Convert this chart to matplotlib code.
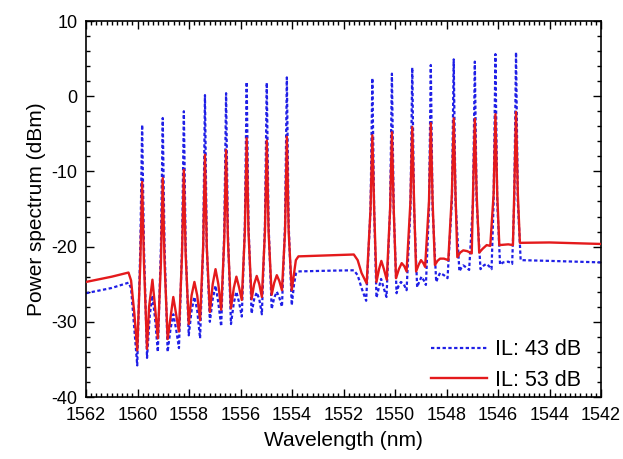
import matplotlib
matplotlib.use("Agg")
import matplotlib.pyplot as plt
from matplotlib.ticker import MultipleLocator

plt.rcParams['font.family'] = ['Liberation Sans', 'DejaVu Sans']
plt.rcParams['axes.unicode_minus'] = False

# ---- data (wavelength in nm, power in dBm) ----
blue_wl = [1562.0, 1561.0, 1560.35, 1560.25, 1560.12, 1560.01,
           1559.89, 1559.82, 1559.75, 1559.63, 1559.52, 1559.42, 1559.32, 1559.21,
           1559.09, 1559.02, 1558.95, 1558.83, 1558.72, 1558.61, 1558.50, 1558.39,
           1558.27, 1558.20, 1558.13, 1558.01, 1557.90, 1557.79, 1557.68, 1557.57,
           1557.45, 1557.38, 1557.31, 1557.19, 1557.08, 1556.97, 1556.86, 1556.75,
           1556.63, 1556.56, 1556.49, 1556.37, 1556.26, 1556.16, 1556.05, 1555.95,
           1555.83, 1555.76, 1555.69, 1555.57, 1555.47, 1555.37, 1555.27, 1555.17,
           1555.05, 1554.98, 1554.91, 1554.79, 1554.69, 1554.59, 1554.49, 1554.39,
           1554.27, 1554.20, 1554.13, 1554.01, 1553.92, 1553.85, 1553.75,
           1552.5, 1551.6, 1551.45, 1551.30, 1551.12,
           1550.95, 1550.88, 1550.81, 1550.72, 1550.63, 1550.54, 1550.44, 1550.33,
           1550.19, 1550.12, 1550.05, 1549.94, 1549.86, 1549.77, 1549.66, 1549.55,
           1549.40, 1549.33, 1549.26, 1549.14, 1549.05, 1548.97, 1548.88, 1548.80,
           1548.68, 1548.61, 1548.54, 1548.40, 1548.32, 1548.25, 1548.10, 1547.96,
           1547.79, 1547.72, 1547.65, 1547.50, 1547.42, 1547.35, 1547.22, 1547.12,
           1546.97, 1546.90, 1546.83, 1546.68, 1546.55, 1546.45, 1546.35, 1546.25,
           1546.17, 1546.10, 1546.03, 1545.92, 1545.80, 1545.60, 1545.45,
           1545.37, 1545.30, 1545.23, 1545.12, 1544.0, 1542.0]
blue_db = [-26.2, -25.5, -24.8, -25.5, -31.0, -35.8,
           -20.0, -3.8, -20.0, -34.8, -29.0, -26.5, -29.5, -34.0,
           -20.0, -2.9, -20.0, -34.0, -31.0, -29.0, -31.0, -33.5,
           -20.0, -2.0, -20.0, -31.8, -28.5, -26.7, -28.5, -32.2,
           -20.0, 0.15, -20.0, -30.0, -27.0, -25.2, -27.5, -30.6,
           -18.0, 0.4, -18.0, -30.3, -27.5, -26.0, -27.5, -29.3,
           -17.0, 1.9, -17.0, -28.9, -27.0, -26.1, -27.0, -29.0,
           -17.0, 1.8, -17.0, -28.3, -26.8, -26.0, -26.8, -28.0,
           -17.0, 2.5, -17.0, -27.8, -25.0, -23.6, -23.3,
           -23.2, -23.15, -23.8, -25.5, -27.2,
           -15.0, 2.4, -15.0, -26.8, -25.5, -24.3, -25.5, -26.7,
           -15.0, 3.0, -15.0, -26.2, -25.2, -24.7, -25.0, -25.8,
           -15.0, 3.8, -15.0, -25.4, -24.6, -24.0, -24.5, -25.1,
           -15.0, 4.15, -15.0, -24.7, -24.0, -23.5, -23.8, -24.2,
           -14.0, 4.9, -14.0, -23.3, -22.8, -22.5, -22.8, -23.1,
           -14.0, 4.6, -14.0, -23.0, -22.5, -22.3, -22.6, -23.0,
           -14.0, 5.6, -14.0, -22.4, -22.1, -22.0, -22.3,
           -14.0, 5.85, -14.0, -21.8, -21.9, -22.1]

red_wl = [1562.0, 1561.0, 1560.35, 1560.25, 1560.12, 1560.01,
          1559.89, 1559.82, 1559.75, 1559.63, 1559.55, 1559.42, 1559.32, 1559.21,
          1559.09, 1559.02, 1558.95, 1558.83, 1558.72, 1558.61, 1558.50, 1558.39,
          1558.27, 1558.20, 1558.13, 1558.01, 1557.90, 1557.79, 1557.68, 1557.57,
          1557.45, 1557.38, 1557.31, 1557.19, 1557.08, 1556.97, 1556.86, 1556.75,
          1556.63, 1556.56, 1556.49, 1556.37, 1556.26, 1556.16, 1556.05, 1555.95,
          1555.83, 1555.76, 1555.69, 1555.57, 1555.47, 1555.37, 1555.27, 1555.17,
          1555.05, 1554.98, 1554.91, 1554.79, 1554.69, 1554.59, 1554.49, 1554.39,
          1554.27, 1554.20, 1554.13, 1554.01, 1553.92, 1553.85, 1553.75,
          1552.5, 1551.6, 1551.45, 1551.30, 1551.10,
          1550.95, 1550.88, 1550.81, 1550.72, 1550.62, 1550.53, 1550.43, 1550.32,
          1550.19, 1550.12, 1550.05, 1549.96, 1549.85, 1549.74, 1549.64, 1549.55,
          1549.40, 1549.33, 1549.26, 1549.18, 1549.08, 1548.99, 1548.90, 1548.83,
          1548.68, 1548.61, 1548.54, 1548.45, 1548.35, 1548.25, 1548.10, 1547.93,
          1547.79, 1547.72, 1547.65, 1547.58, 1547.47, 1547.35, 1547.20, 1547.02,
          1546.97, 1546.90, 1546.83, 1546.73, 1546.60, 1546.44, 1546.30,
          1546.17, 1546.10, 1546.03, 1545.95, 1545.60, 1545.42,
          1545.37, 1545.30, 1545.23, 1545.15, 1544.0, 1542.0]
red_db = [-24.7, -24.0, -23.45, -24.5, -29.0, -33.8,
          -22.0, -11.4, -22.0, -33.6, -28.0, -24.4, -28.0, -32.2,
          -22.0, -10.9, -22.0, -32.3, -29.5, -26.7, -29.0, -31.3,
          -21.0, -9.8, -21.0, -30.3, -26.5, -24.7, -26.5, -29.8,
          -20.0, -7.8, -20.0, -28.7, -25.0, -23.0, -25.0, -28.4,
          -19.0, -7.15, -19.0, -28.2, -25.5, -24.0, -25.5, -27.1,
          -18.0, -5.6, -18.0, -27.0, -25.0, -23.9, -25.0, -26.7,
          -18.0, -5.9, -18.0, -26.4, -24.8, -23.8, -24.6, -25.8,
          -18.0, -5.4, -18.0, -25.8, -23.5, -21.8, -21.3,
          -21.15, -21.05, -21.8, -23.5, -24.9,
          -15.0, -5.2, -15.0, -24.7, -23.0, -21.9, -23.0, -24.4,
          -15.0, -4.8, -15.0, -24.2, -23.0, -22.2, -22.6, -23.3,
          -14.0, -4.1, -14.0, -23.3, -22.4, -21.8, -22.2, -22.7,
          -14.0, -3.6, -14.0, -22.45, -21.9, -21.6, -21.6, -21.8,
          -13.0, -2.95, -13.0, -21.4, -20.8, -20.5, -20.6, -20.9,
          -13.0, -3.0, -13.0, -20.8, -20.3, -19.8, -19.9,
          -13.0, -2.4, -13.0, -19.8, -19.7, -19.8,
          -13.0, -2.1, -13.0, -19.5, -19.45, -19.65]

labels = ["IL: 43 dB", "IL: 53 dB"]
x_ticks = [1562, 1560, 1558, 1556, 1554, 1552, 1550, 1548, 1546, 1544, 1542]
y_ticks = [-40, -30, -20, -10, 0, 10]

fig = plt.figure(figsize=(6.23, 4.59), dpi=100)
ax = fig.add_axes([86/623, 1-397/459, (601-86)/623, (397-21)/459])

ax.plot(blue_wl, blue_db, color='#1f1fe6', lw=1.6, linestyle=(0, (1.5, 1.1)),
        label=labels[0], zorder=2)
ax.plot(red_wl, red_db, color='#e41a1c', lw=1.7, label=labels[1], zorder=3)

ax.set_xlim(1562, 1542)
ax.set_ylim(-40, 10)
ax.set_xticks(x_ticks)
ax.set_yticks(y_ticks)
ax.xaxis.set_minor_locator(MultipleLocator(0.2))
ax.yaxis.set_minor_locator(MultipleLocator(2))
ax.tick_params(which='both', direction='in', top=True, right=True,
               width=1.0, colors='black', labelsize=13)
ax.tick_params(which='major', length=6)
ax.tick_params(which='minor', length=3)
ax.tick_params(axis='x', pad=7)
ax.tick_params(axis='y', pad=6)
for s in ax.spines.values():
    s.set_linewidth(1.2)

ax.set_xlabel("Wavelength (nm)", fontsize=15, labelpad=5)
ax.set_ylabel("Power spectrum (dBm)", fontsize=15, labelpad=4)

ax.legend(loc='lower right', frameon=False, fontsize=15.5, handlelength=2.6,
          handletextpad=0.4, labelspacing=0.45, bbox_to_anchor=(1.0, -0.035))

fig.savefig("out.png", dpi=100)
